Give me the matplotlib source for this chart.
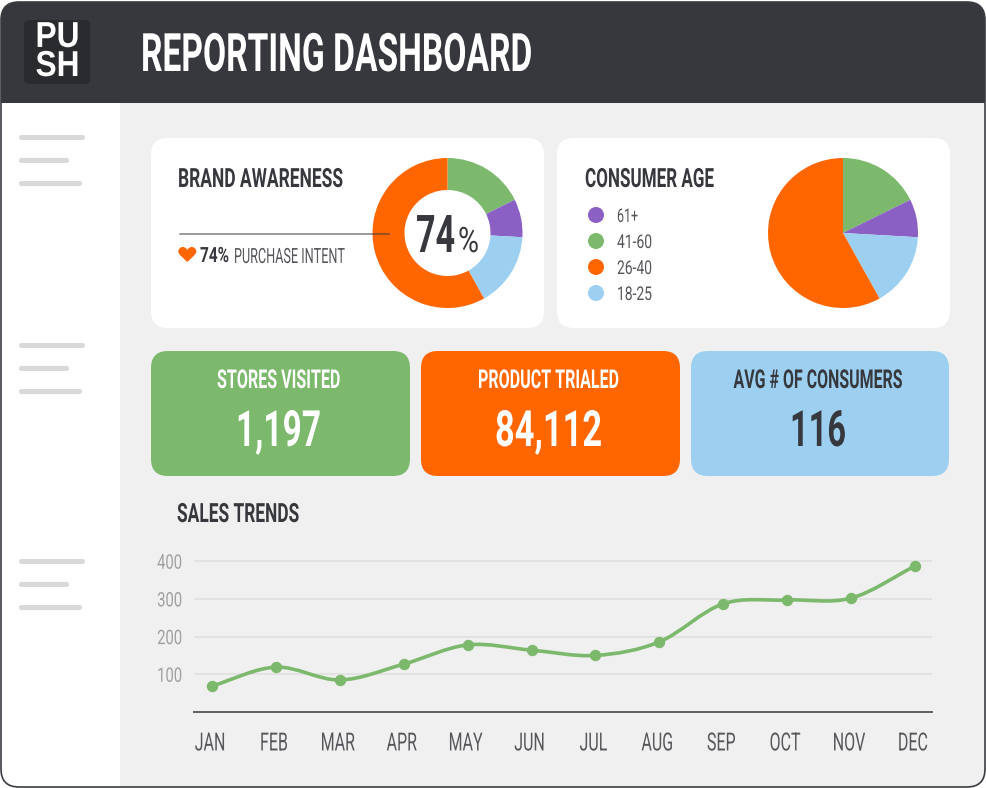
import matplotlib
matplotlib.use("Agg")
import numpy as np
import matplotlib.pyplot as plt
from matplotlib.patches import FancyBboxPatch, Rectangle, Circle, PathPatch
from matplotlib.path import Path
from matplotlib.patheffects import AbstractPathEffect
from matplotlib.transforms import Affine2D, Bbox

W, H = 986, 788
FONT = ["Roboto", "DejaVu Sans"]

DARK = "#36383D"
GREY = "#55575B"
GREEN = "#7CB96C"
ORANGE = "#FF6600"
PURPLE = "#8A60C4"
BLUE = "#9DD0F0"
BG = "#F0F0F0"

pie_labels = ["41-60", "61+", "18-25", "26-40"]
pie_values = [17.7, 8.2, 16.0, 58.1]
pie_colors = [GREEN, PURPLE, BLUE, ORANGE]
legend_labels = ["61+", "41-60", "26-40", "18-25"]
legend_widths = [21, 35, 35, 35]
legend_colors = [PURPLE, GREEN, ORANGE, BLUE]

kpi_titles = ["STORES VISITED", "PRODUCT TRIALED", "AVG # OF CONSUMERS"]
kpi_title_widths = [123, 141, 169]
kpi_values = ["1,197", "84,112", "116"]
kpi_value_widths = [85, 107, 56]
kpi_colors = [GREEN, ORANGE, BLUE]
kpi_text = ["white", "white", DARK]

months = ["JAN", "FEB", "MAR", "APR", "MAY", "JUN", "JUL", "AUG", "SEP", "OCT", "NOV", "DEC"]
sales = [69, 119, 85, 127, 178, 164, 150, 186, 287, 297, 302, 387]
yticks = [100, 200, 300, 400]

fig = plt.figure(figsize=(W / 100, H / 100), dpi=100, facecolor="white")
renderer = fig.canvas.get_renderer()
bg = fig.add_axes([0, 0, 1, 1])
bg.set_xlim(0, W)
bg.set_ylim(H, 0)
bg.axis("off")


class Squeeze(AbstractPathEffect):
    """Draw a text narrower about its anchor (no condensed font is installed)."""

    def __init__(self, text, sx, dx=0):
        super().__init__()
        self.text, self.sx, self.dx = text, sx, dx

    def anchor(self):
        return self.text.get_transform().transform(self.text.get_unitless_position())[0]

    def draw_path(self, renderer, gc, tpath, affine, rgbFace=None):
        a = self.anchor()
        squeeze_tf = Affine2D().translate(-a, 0).scale(self.sx, 1).translate(a + self.dx, 0)
        renderer.draw_path(gc, tpath, affine + squeeze_tf, rgbFace)


def squeeze(t, sx=None, width=None, dx=0):
    orig = t.get_window_extent
    if sx is None:
        sx = width / orig(renderer).width
    eff = Squeeze(t, sx, dx)
    t.set_path_effects([eff])

    def extent(renderer=None, dpi=None):
        bb = orig(renderer, dpi)
        a = eff.anchor()
        return Bbox.from_extents(a + dx + (bb.x0 - a) * sx, bb.y0, a + dx + (bb.x1 - a) * sx, bb.y1)

    t.get_window_extent = extent
    return t


def rbox(x0, y0, x1, y1, r, color, z=1, **kw):
    p = FancyBboxPatch((x0 + r, y0 + r), x1 - x0 - 2 * r, y1 - y0 - 2 * r,
                       boxstyle=f"round,pad={r},rounding_size={r}",
                       fc=color, ec=kw.pop("ec", "none"), lw=kw.pop("lw", 0), zorder=z, **kw)
    bg.add_patch(p)
    return p


def txt(x, y, s, px, width, color=DARK, weight="bold", ha="left", va="baseline", ax=None,
        family=FONT, dx=0, **kw):
    t = (ax or bg).text(x, y, s, fontsize=px * 0.72, color=color, fontweight=weight,
                        ha=ha, va=va, family=family, zorder=6, **kw)
    return squeeze(t, width=width, dx=dx)


# Window frame
frame = rbox(1, 2, 985, 787, 18, "white", z=1)
content = Rectangle((120, 103), 866, 685, fc=BG, ec="none", zorder=2)
bg.add_patch(content)
content.set_clip_path(frame)
header = Rectangle((0, 0), 986, 103, fc=DARK, ec="none", zorder=3)
bg.add_patch(header)
header.set_clip_path(frame)
rbox(1, 2, 985, 787, 18, "none", z=4, ec="#3A3C41", lw=1.2)

# Logo and title
rbox(24, 20, 90, 84, 5, "#2A2B2F", z=5)
txt(57.5, 84, "PU\nSH", 36, 44, "white", ha="center", va="bottom", ma="center",
    family=["Liberation Sans", "DejaVu Sans"], linespacing=0.78)
txt(141, 71, "REPORTING DASHBOARD", 53, 391, "white")

# Sidebar placeholders
for y0 in (137, 345, 561):
    for dy, x1 in zip((0, 23, 46), (84, 68, 81)):
        bg.plot([21, x1 - 2], [y0 + dy, y0 + dy], color="#D9D9D9", lw=3.6,
                solid_capstyle="round", zorder=3)

# Cards
rbox(151, 138, 544, 328, 17, "white", z=3)
rbox(557, 138, 950, 328, 17, "white", z=3)
for x0, x1, col, title, tw, val, vw, tc in zip((151, 421, 691), (410, 680, 949), kpi_colors,
                                               kpi_titles, kpi_title_widths, kpi_values,
                                               kpi_value_widths, kpi_text):
    rbox(x0, 351, x1, 476, 17, col, z=3)
    cx = (x0 + x1) / 2 - 2
    txt(cx, 388, title, 26, tw, tc, ha="center")
    txt(cx, 446, val, 50, vw, tc, ha="center")

txt(178, 187, "BRAND AWARENESS", 26.5, 165)
txt(585, 187, "CONSUMER AGE", 26.5, 129)
txt(177, 522, "SALES TRENDS", 26.5, 122)

# Heart icon + purchase intent
heart_v = np.array([(0, 7.5), (-4, 3.5), (-9, 0), (-9, -3), (-9, -6), (-6.5, -7.5), (-4.5, -7.5),
                    (-2.5, -7.5), (-0.8, -6.2), (0, -4.5), (0.8, -6.2), (2.5, -7.5), (4.5, -7.5),
                    (6.5, -7.5), (9, -6), (9, -3), (9, 0), (4, 3.5), (0, 7.5)])
heart_c = [Path.MOVETO] + [Path.CURVE4] * 18
bg.add_patch(PathPatch(Path(heart_v + (187.3, 254.5), heart_c), fc=ORANGE, ec="none", zorder=6))
txt(229, 262, "74%", 21, 29, ha="right")
txt(234, 263, "PURCHASE INTENT", 21, 111, GREY, weight="normal")

# Consumer age legend
for i, (lab, lw_, col) in enumerate(zip(legend_labels, legend_widths, legend_colors)):
    yy = 215 + 26 * i
    bg.add_patch(Circle((596, yy), 8, fc=col, ec="none", zorder=5))
    txt(617, yy + 7, lab, 19, lw_, GREY, weight="normal")


def px_axes(x0, y0, x1, y1, **kw):
    return fig.add_axes([x0 / W, 1 - y1 / H, (x1 - x0) / W, (y1 - y0) / H], **kw)


# Donut
ax = px_axes(372.5, 158, 522.5, 308)
ax.pie(pie_values, colors=pie_colors, startangle=90, counterclock=False, radius=1,
       wedgeprops=dict(width=1 - 43 / 75, linewidth=0))
ax.set_xlim(-1, 1)
ax.set_ylim(-1, 1)
ax.patch.set_alpha(0)

# Pie
ax2 = px_axes(768, 158, 918, 308)
ax2.pie(pie_values, colors=pie_colors, startangle=90, counterclock=False, radius=1,
        wedgeprops=dict(linewidth=0))
ax2.set_xlim(-1, 1)
ax2.set_ylim(-1, 1)
ax2.patch.set_alpha(0)

# Overlays above the pies
over = fig.add_axes([0, 0, 1, 1], facecolor="none")
over.set_xlim(0, W)
over.set_ylim(H, 0)
over.axis("off")
over.plot([180, 389], [234, 234], color="#3A3C41", alpha=0.65, lw=1.1)
txt(469, 252, "74", 52, 39, ha="right", ax=over, dx=-14)
txt(472, 252, "%", 35, 21, weight="normal", ax=over, dx=-14)

# Line chart
x_step = 63.9
lax = px_axes(194, 545, 932, 712)
lax.patch.set_alpha(0)
lax.set_xlim(-18 / x_step, 720 / x_step)
lax.set_ylim(0, 167 / 0.377)
xs = np.arange(len(sales), dtype=float)
ys = np.asarray(sales, dtype=float)

# Catmull-Rom smoothing through the data points
pad_x = np.r_[xs[0] - 1, xs, xs[-1] + 1]
pad_y = np.r_[2 * ys[0] - ys[1], ys, 2 * ys[-1] - ys[-2]]
verts = [(xs[0], ys[0])]
codes = [Path.MOVETO]
for i in range(1, len(pad_x) - 2):
    verts += [(pad_x[i] + (pad_x[i + 1] - pad_x[i - 1]) / 6, pad_y[i] + (pad_y[i + 1] - pad_y[i - 1]) / 6),
              (pad_x[i + 1] - (pad_x[i + 2] - pad_x[i]) / 6, pad_y[i + 1] - (pad_y[i + 2] - pad_y[i]) / 6),
              (pad_x[i + 1], pad_y[i + 1])]
    codes += [Path.CURVE4] * 3
lax.add_patch(PathPatch(Path(verts, codes), fc="none", ec=GREEN, lw=2.6, zorder=3))
lax.plot(xs, ys, ls="none", marker="o", ms=8.2, mfc=GREEN, mec="none", zorder=4)

lax.set_xticks(xs, months)
lax.set_yticks(yticks, [str(v) for v in yticks])
lax.grid(axis="y", color="#DEDEDE", lw=1.1)
lax.set_axisbelow(True)
for s in ("top", "left", "right"):
    lax.spines[s].set_visible(False)
lax.spines["bottom"].set_color("#5E5F63")
lax.spines["bottom"].set_linewidth(1.4)
lax.tick_params(axis="both", length=0)
lax.tick_params(axis="x", pad=14, labelsize=25 * 0.72, labelcolor=GREY)
lax.tick_params(axis="y", pad=8.6, labelsize=20 * 0.72, labelcolor="#A0A0A0")
for lab in lax.get_xticklabels():
    lab.set_family(FONT)
    squeeze(lab, sx=0.64, dx=-2)
for lab in lax.get_yticklabels():
    lab.set_family(FONT)
    squeeze(lab, sx=0.74)

fig.savefig("out.png", dpi=100, facecolor="white")
